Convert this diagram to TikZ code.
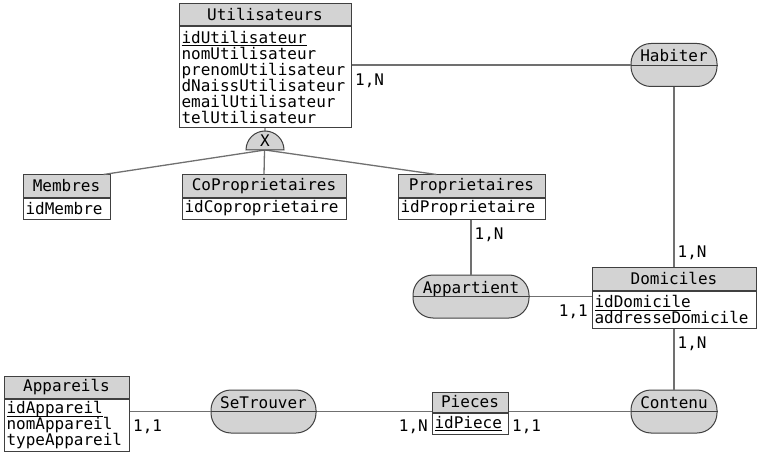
\documentclass[tikz,border=0pt]{standalone}
\usepackage{fontspec}
\setmonofont{DejaVu Sans Mono}
\definecolor{headgray}{HTML}{D3D3D3}
\definecolor{edgegray}{HTML}{404040}
\definecolor{linkgray}{HTML}{707070}
\newcommand{\idkey}[1]{\underline{\raisebox{0pt}[\height][1pt]{#1}}}

\begin{document}
\begin{tikzpicture}[x=1pt,y=1pt,
						font=\ttfamily\fontsize{16}{16}\selectfont,
						headnode/.style={draw=edgegray, fill=headgray, line width=1pt, inner sep=0pt, minimum height=22pt},
						bodynode/.style={draw=edgegray, fill=white, line width=1pt, anchor=north, inner xsep=2.5pt, inner ysep=0pt, align=left},
						assocnode/.style={rectangle, rounded corners=20pt, draw=edgegray, fill=headgray, line width=1pt, inner sep=0pt, text height=18pt, text depth=25pt},
						link/.style={draw=linkgray, line width=1.3pt},
						card/.style={inner xsep=3pt, inner ysep=8pt},
						]
						\useasboundingbox (0,0) rectangle (763,456);
						%Entities
						\node[headnode, minimum width=172pt] (utilHead) at (265,441.5) {Utilisateurs};
						\node[bodynode, text width=167pt, minimum height=101pt] (utilBody) at (utilHead.south) {\idkey{idUtilisateur}\\nomUtilisateur\\prenomUtilisateur\\dNaissUtilisateur\\emailUtilisateur\\telUtilisateur};
						\node[headnode, minimum width=87pt] (memHead) at (66.5,270) {Membres};
						\node[bodynode, text width=82pt, minimum height=21pt] (memBody) at (memHead.south) {idMembre};
						\node[headnode, minimum width=164pt] (coHead) at (264,270) {CoProprietaires};
						\node[bodynode, text width=159pt, minimum height=21pt] (coBody) at (coHead.south) {idCoproprietaire};
						\node[headnode, minimum width=147pt] (propHead) at (471.5,270) {Proprietaires};
						\node[bodynode, text width=142pt, minimum height=21pt] (propBody) at (propHead.south) {idProprietaire};
						\node[headnode, minimum width=164pt, minimum height=23pt] (domHead) at (674,177.5) {Domiciles};
						\node[bodynode, text width=159pt, minimum height=37pt] (domBody) at (domHead.south) {\idkey{idDomicile}\\addresseDomicile};
						\node[headnode, minimum width=125pt] (appaHead) at (66.5,69) {Appareils};
						\node[bodynode, text width=120pt, minimum height=52pt] (appaBody) at (appaHead.south) {\idkey{idAppareil}\\nomAppareil\\typeAppareil};
						\node[headnode, minimum width=76pt, minimum height=20pt] (piecesHead) at (470,54) {Pieces};
						\node[bodynode, text width=71pt, minimum height=21pt] (piecesBody) at (piecesHead.south) {\idkey{idPiece}};
						
						%Associations
						\node[assocnode, minimum width=86pt] (hab) at (674,391) {Habiter};
						\node[assocnode, minimum width=116pt] (app) at (471,159.5) {Appartient};
						\node[assocnode, minimum width=86pt] (cont) at (674,44.5) {Contenu};
						\node[assocnode, minimum width=105pt] (setr) at (263.5,44.5) {SeTrouver};
						\draw[edgegray] (hab.west) -- (hab.east);
						\draw[edgegray] (app.west) -- (app.east);
						\draw[edgegray] (cont.west) -- (cont.east);
						\draw[edgegray] (setr.west) -- (setr.east);
						
						%Lines
						\coordinate (gen) at (265,306);
						\draw[link] (utilBody.south) -- (coHead.north);
						\draw[link] (gen) -- ([xshift=-7pt]memHead.north east);
						\draw[link] (gen) -- ([xshift=39pt]propHead.north west);
						\draw[link] (hab.west -| utilBody.east) -- node[card, pos=0, anchor=north west] {1,N} (hab.west);
						\draw[link] (hab.south) -- node[card, pos=1, anchor=south west, inner ysep=6pt] {1,N} (domHead.north);
						\draw[link] (propBody.south -| app.north) -- node[card, pos=0, anchor=north west] {1,N} (app.north);
						\draw[link] (app.east) -- node[card, pos=1, anchor=north east] {1,1} (app.east -| domBody.west);
						\draw[link] (domBody.south) -- node[card, pos=0, anchor=north west] {1,N} (cont.north);
						\draw[link] (setr.west -| appaBody.east) -- node[card, pos=0, anchor=north west] {1,1} (setr.west);
						\draw[link] (setr.east) -- node[card, pos=1, anchor=north east] {1,N} (setr.east -| piecesBody.west);
						\draw[link] (setr.east -| piecesBody.east) -- node[card, pos=0, anchor=north west] {1,1} (cont.west);
						
						%Generalisation
						\filldraw[draw=edgegray, fill=headgray, line width=1pt] ([xshift=-19pt]gen) arc[start angle=180, end angle=0, radius=19pt] -- cycle;
						\node (genX) at ([yshift=9pt]gen) {X};
\end{tikzpicture}
\end{document}
